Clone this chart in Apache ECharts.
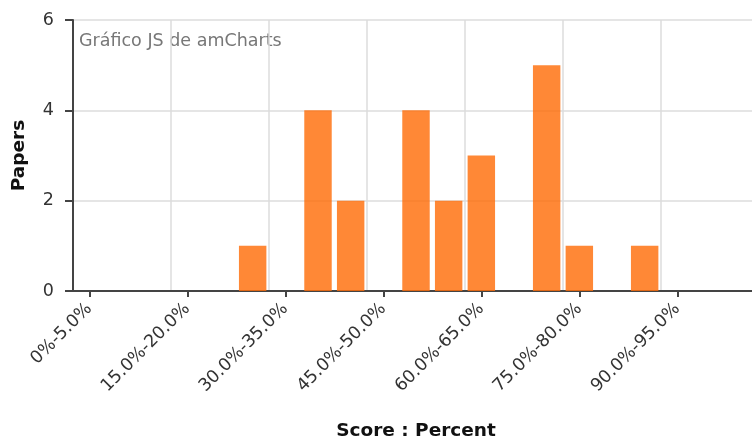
<!DOCTYPE html>
<html>
<head>
<meta charset="utf-8">
<script src="https://cdn.jsdelivr.net/npm/echarts@6/dist/echarts.min.js"></script>
<style>html,body{margin:0;padding:0;background:#fff;overflow:hidden;width:752px;height:439px}#c{width:759px;height:439px}</style>
</head>
<body>
<div id="c"></div>
<script>
const categories = ["0%-5.0%","5.0%-10.0%","10.0%-15.0%","15.0%-20.0%","20.0%-25.0%","25.0%-30.0%","30.0%-35.0%","35.0%-40.0%","40.0%-45.0%","45.0%-50.0%","50.0%-55.0%","55.0%-60.0%","60.0%-65.0%","65.0%-70.0%","70.0%-75.0%","75.0%-80.0%","80.0%-85.0%","85.0%-90.0%","90.0%-95.0%","95.0%-100.0%","100.0%-105.0%"];
const papers = [0,0,0,0,0,1,0,4,2,0,4,2,3,0,5,1,0,1,0,0,0];
const yTicks = {min:0, max:6, interval:2};

const font = 'DejaVu Sans, Verdana, sans-serif';
const chart = echarts.init(document.getElementById('c'), null, {renderer:'canvas'});
chart.setOption({
  animation:false,
  grid:{left:73, right:0, top:20, bottom:148, containLabel:false, outerBoundsMode:'none'},
  graphic:[{type:'text', left:79, top:32, style:{text:'Gráfico JS de amCharts', fill:'#777', font:'17.5px ' + font}}],
  xAxis:{
    type:'category', data:categories, boundaryGap:true,
    name:'Score : Percent', nameLocation:'middle', nameGap:131,
    nameTextStyle:{fontFamily:font, fontWeight:'bold', fontSize:18.5, color:'#111'},
    axisLine:{lineStyle:{color:'#444', width:2}},
    axisTick:{show:true, alignWithLabel:true, interval:2, length:6, lineStyle:{color:'#444', width:2}},
    axisLabel:{interval:2, rotate:45, fontFamily:font, fontSize:17.5, color:'#333', margin:15},
    splitLine:{show:true, interval:2, lineStyle:{color:'#ddd', width:1.5}}
  },
  yAxis:{
    type:'value', min:yTicks.min, max:yTicks.max, interval:yTicks.interval,
    name:'Papers', nameLocation:'middle', nameGap:44,
    nameTextStyle:{fontFamily:font, fontWeight:'bold', fontSize:18.5, color:'#111'},
    axisLine:{show:true, lineStyle:{color:'#444', width:2}},
    axisTick:{show:true, length:8, lineStyle:{color:'#444', width:2}},
    axisLabel:{fontFamily:font, fontSize:17.5, color:'#333', margin:19},
    splitLine:{show:true, lineStyle:{color:'#ddd', width:1.5}}
  },
  series:[{
    type:'bar', data:papers, barCategoryGap:'16%',
    itemStyle:{color:'rgba(255,110,10,0.82)', borderWidth:0}
  }]
});
</script>
</body>
</html>
